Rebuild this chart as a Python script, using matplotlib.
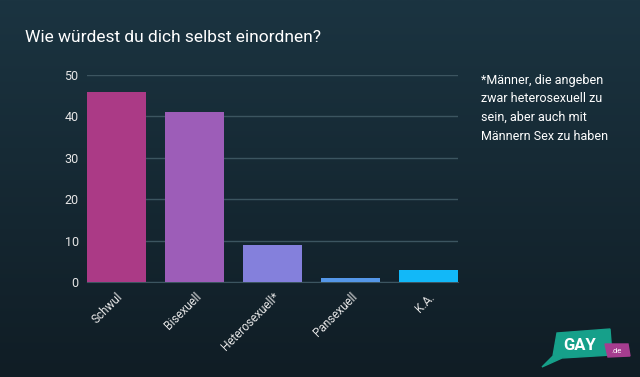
import numpy as np
import matplotlib.pyplot as plt
from matplotlib.patches import Polygon
from matplotlib.colors import LinearSegmentedColormap

kategorien = ['Schwul', 'Bisexuell', 'Heterosexuell*', 'Pansexuell', 'K.A.']
werte = [46, 41, 9, 1, 3]
farben = ['#ab3a86', '#9d5db8', '#8480dc', '#5597e8', '#12b8f8']
yticks = [0, 10, 20, 30, 40, 50]

plt.rcParams['font.family'] = ['Roboto', 'DejaVu Sans']

fig = plt.figure(figsize=(6.4, 3.77), dpi=100)

# hintergrund mit verlauf
bg = fig.add_axes([0, 0, 1, 1], zorder=-10)
grad = np.linspace(0, 1, 256).reshape(-1, 1)
cmap = LinearSegmentedColormap.from_list('bg', ['#1b3441', '#101d25'])
bg.imshow(grad, aspect='auto', cmap=cmap, extent=[0, 1, 0, 1], origin='upper')
bg.axis('off')

# diagramm
ax = fig.add_axes([87 / 640, 1 - 282 / 377, (458 - 87) / 640, (282 - 75) / 377])
ax.set_facecolor('none')
x = np.arange(len(kategorien))
ax.bar(x, werte, width=0.757, color=farben, zorder=3)
ax.set_xlim(-0.3785, len(kategorien) - 1 + 0.3785)
ax.set_ylim(0, 50)
ax.set_yticks(yticks)
ax.set_yticklabels([str(t) for t in yticks], color='#e6e6e6', fontsize=9)
ax.grid(axis='y', color='#3c5560', linewidth=1, zorder=0)
ax.set_xticks(x)
ax.set_xticklabels(kategorien, rotation=45, ha='right', rotation_mode='anchor',
                   color='#e6e6e6', fontsize=8.5)
ax.tick_params(length=0, pad=6)
for s in ['top', 'right', 'left']:
    ax.spines[s].set_visible(False)
ax.spines['bottom'].set_color('#3c5560')

# titel
fig.text(25 / 640, 1 - 37 / 377, 'Wie würdest du dich selbst einordnen?',
         color='white', fontsize=12.5, va='center', ha='left')

# fussnote
fig.text(481 / 640, 1 - 74 / 377,
         '*Männer, die angeben\nzwar heterosexuell zu\nsein, aber auch mit\nMännern Sex zu haben',
         color='white', fontsize=9, va='top', ha='left', linespacing=1.55)

# logo
lg = fig.add_axes([0, 0, 1, 1], zorder=5)
lg.set_xlim(0, 640)
lg.set_ylim(377, 0)
lg.axis('off')
lg.add_patch(Polygon([[557, 333], [610, 329], [612, 355], [562, 358], [542, 367],
                      [553, 356]], closed=True, color='#16a08a'))
lg.text(580, 345, 'GAY', color='white', fontsize=12, fontweight='bold',
        ha='center', va='center')
lg.add_patch(Polygon([[605, 344], [628, 344], [630, 356], [608, 357]], closed=True,
                     color='#a53d8f'))
lg.text(617, 351, '.de', color='white', fontsize=5.5, ha='center', va='center')

fig.savefig('out.png', dpi=100)
